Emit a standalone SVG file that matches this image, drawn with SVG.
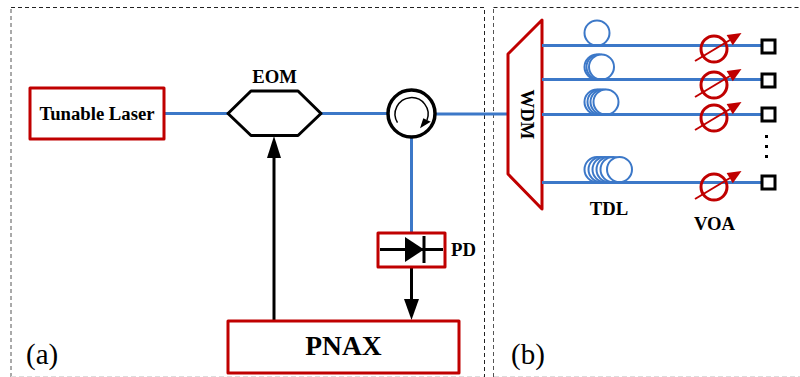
<svg xmlns="http://www.w3.org/2000/svg" width="800" height="377" viewBox="0 0 800 377">
<defs>
<style>
.dash{fill:none;stroke:#222;stroke-width:1;stroke-dasharray:4 3}
.dashg{fill:none;stroke:#555;stroke-width:1;stroke-dasharray:4 3}
.dashl{fill:none;stroke:#ddd;stroke-width:1;stroke-dasharray:5 3}
.box{fill:#fff;stroke:#c00000;stroke-width:3;stroke-linejoin:round}
.fib{fill:none;stroke:#3c78c8;stroke-width:3}
.coil{fill:#fff;stroke:#3c78c8;stroke-width:2}
.blk{fill:none;stroke:#000;stroke-width:3}
.vc{fill:none;stroke:#c00000;stroke-width:3}
.va{fill:none;stroke:#c00000;stroke-width:2}
.vh{fill:#c00000;stroke:none}
.pt{fill:#fff;stroke:#000;stroke-width:3}
text{font-family:"Liberation Serif","Times New Roman",serif;fill:#000}
.b{font-weight:bold}
</style>
<g id="voa"><circle cx="0" cy="0" r="13" class="vc"/><path d="M-19 12L16 -9" class="va"/><path class="vh" d="M27.500 -16L12.600 -13.900L18.800 -3.700Z"/></g>
</defs>
<g id="frames">
<path class="dashg" d="M11 377V7.500"/>
<path class="dash" d="M11 7.500H484.500V377"/>
<path class="dashg" d="M493.500 377V7.500"/>
<path class="dash" d="M493.500 7.500H800"/>
<path class="dashl" d="M11 376.500H484M494 376.500H800"/>
</g>
<g id="connectors">
<path class="fib" d="M164 113.500H228M321 113.500H388M436 114H508"/>
<path class="fib" d="M411.500 138V232"/>
<path class="blk" d="M274 321V152"/>
<path d="M274 136L267 158H281Z"/>
<path class="blk" d="M411.500 268V300"/>
<path d="M411.500 320L404 299H419Z"/>
</g>
<g id="tunable-laser"><rect class="box" x="30" y="88" width="134" height="51"/><text class="b" x="97" y="119.500" font-size="18.700" text-anchor="middle">Tunable Laser</text></g>
<g id="eom"><path d="M228 113.500L251 91H298L321 113.500L298 135.500H251Z" fill="#fff" stroke="#000" stroke-width="3" stroke-linejoin="round"/><text class="b" x="274.500" y="83" font-size="18.700" text-anchor="middle">EOM</text></g>
<g id="circulator"><circle cx="411.500" cy="113.500" r="23.500" fill="#fff" stroke="#000" stroke-width="3.500"/><path d="M397.500 122.700A16.500 16.500 0 1 1 427 120" fill="none" stroke="#000" stroke-width="1.500"/><path d="M420 128.300L423.300 118.300L430.700 121.700Z"/></g>
<g id="pd"><rect class="box" x="378" y="233" width="67" height="34"/><path d="M380 249.500H443" stroke="#000" stroke-width="3"/><path d="M405 237L424 249.500L405 262Z"/><path d="M424 236V263" stroke="#000" stroke-width="3"/><text class="b" x="451" y="255.500" font-size="18.700">PD</text></g>
<g id="pnax"><rect class="box" x="228" y="321" width="231" height="52"/><text class="b" x="343.500" y="355" font-size="27.500" text-anchor="middle">PNAX</text></g>
<g id="wdm"><path d="M542 20V209L508 174V54Z" fill="#fff" stroke="#c00000" stroke-width="3" stroke-linejoin="round"/><text class="b" transform="translate(521 114.500) rotate(90)" font-size="18.700" text-anchor="middle">WDM</text></g>
<g id="tdl-1"><circle class="coil" cx="597" cy="33" r="12.500"/></g>
<g id="tdl-2"><circle class="coil" cx="597" cy="67" r="12.500"/><circle class="coil" cx="599" cy="67" r="12.500"/><circle class="coil" cx="601.500" cy="67" r="12.500"/></g>
<g id="tdl-3"><circle class="coil" cx="597" cy="102" r="12.500"/><circle class="coil" cx="600" cy="102" r="12.500"/><circle class="coil" cx="603" cy="102" r="12.500"/><circle class="coil" cx="606" cy="102" r="12.500"/></g>
<g id="tdl-4"><circle class="coil" cx="597" cy="169.500" r="12.500"/><circle class="coil" cx="601" cy="169.500" r="12.500"/><circle class="coil" cx="605" cy="169.500" r="12.500"/><circle class="coil" cx="609" cy="169.500" r="12.500"/><circle class="coil" cx="613" cy="169.500" r="12.500"/><circle class="coil" cx="619.500" cy="169.500" r="12.500"/></g>
<g id="fibers"><path class="fib" d="M542 45.500H762M542 79.500H762M542 114.500H762M542 182.500H762"/></g>
<g id="voa-1"><use href="#voa" x="714" y="49"/></g>
<g id="voa-2"><use href="#voa" x="714" y="85"/></g>
<g id="voa-3"><use href="#voa" x="714" y="118"/></g>
<g id="voa-4"><use href="#voa" x="714" y="187"/></g>
<g id="port-1"><rect class="pt" x="762" y="40" width="13" height="13"/></g>
<g id="port-2"><rect class="pt" x="762" y="74" width="13" height="13"/></g>
<g id="port-3"><rect class="pt" x="762" y="108" width="13" height="13"/></g>
<g id="port-4"><rect class="pt" x="762" y="176" width="13" height="13"/></g>
<g id="dots"><rect x="765" y="135" width="3" height="3"/><rect x="765" y="145" width="3" height="3"/><rect x="765" y="155" width="3" height="3"/></g>
<g id="labels">
<text class="b" x="609" y="215" font-size="18.700" text-anchor="middle">TDL</text>
<text class="b" x="714.500" y="230" font-size="18.700" text-anchor="middle">VOA</text>
<text x="26" y="364" font-size="29">(a)</text>
<text x="511" y="364" font-size="29">(b)</text>
</g>
</svg>
